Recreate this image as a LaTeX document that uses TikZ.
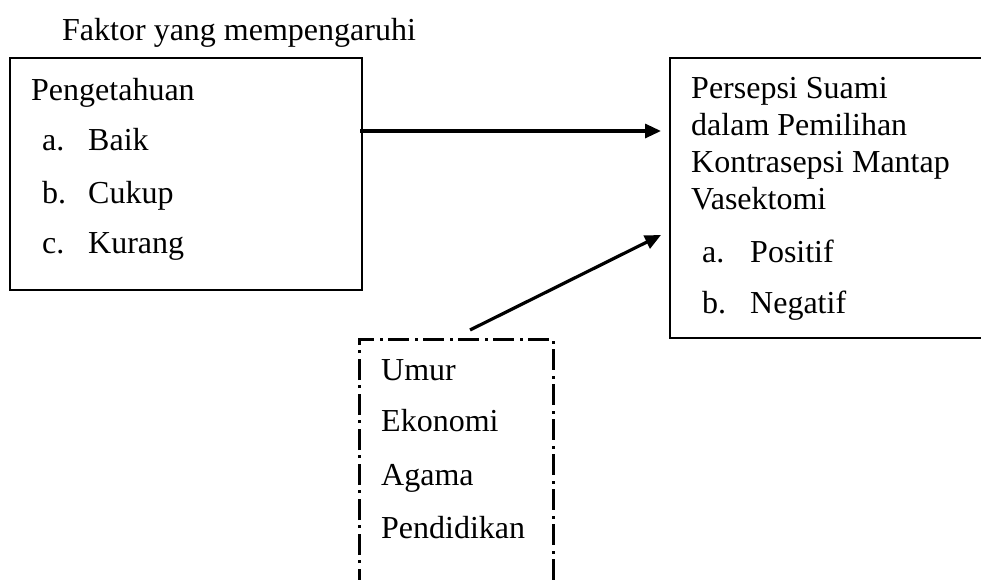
\documentclass[tikz,border=0pt]{standalone}
\usepackage{fontspec}
\setmainfont{Liberation Serif}
\usetikzlibrary{arrows.meta}
\begin{document}
\begin{tikzpicture}[x=1pt,y=-1pt,
  txt/.style={anchor=base west,inner sep=0pt,font=\fontsize{32}{38}\selectfont},
  solidbox/.style={draw,line width=2.6pt},
  dotbox/.style={draw,line width=3pt,dash pattern=on 21pt off 6pt on 3pt off 5pt},
  conn/.style={line width=3.2pt,-{Triangle[length=16pt,width=14pt]}}]
\useasboundingbox (0,0) rectangle (981,579);
% boxes
\node[solidbox,minimum width=352pt,minimum height=232pt,inner sep=0pt] (left) at (186,174) {};
\node[solidbox,minimum width=320pt,minimum height=280pt,inner sep=0pt] (right) at (830,198) {};
\draw[dotbox] (359,590) coordinate (dl) -- (359,339) coordinate (dtl) -- (553,339) coordinate (dtr) -- (553,590) coordinate (dr);
% title
\node[txt] (title) at (62,40) {Faktor yang mempengaruhi};
% left texts
\node[txt] (peng) at (31,100) {Pengetahuan};
\node[txt] (la) at (42,150) {a.};
\node[txt] (lat) at (88,150) {Baik};
\node[txt] (lb) at (42,203) {b.};
\node[txt] (lbt) at (88,203) {Cukup};
\node[txt] (lc) at (42,253) {c.};
\node[txt] (lct) at (88,253) {Kurang};
% right texts
\node[txt] (r1) at (691,98) {Persepsi Suami};
\node[txt] (r2) at (691,135) {dalam Pemilihan};
\node[txt] (r3) at (691,172) {Kontrasepsi Mantap};
\node[txt] (r4) at (691,209) {Vasektomi};
\node[txt] (ra) at (702,262) {a.};
\node[txt] (rat) at (750,262) {Positif};
\node[txt] (rb) at (702,313) {b.};
\node[txt] (rbt) at (750,313) {Negatif};
% dash-dot texts
\node[txt] (u1) at (381,380) {Umur};
\node[txt] (u2) at (381,431) {Ekonomi};
\node[txt] (u3) at (381,485) {Agama};
\node[txt] (u4) at (381,538) {Pendidikan};
% connectors
\coordinate (a1s) at (360,131);
\coordinate (a1e) at (661,131);
\coordinate (a2s) at (470,330);
\coordinate (a2e) at (661,235);
\draw[conn] (a1s) -- (a1e);
\draw[conn] (a2s) -- (a2e);
\end{tikzpicture}
\end{document}
